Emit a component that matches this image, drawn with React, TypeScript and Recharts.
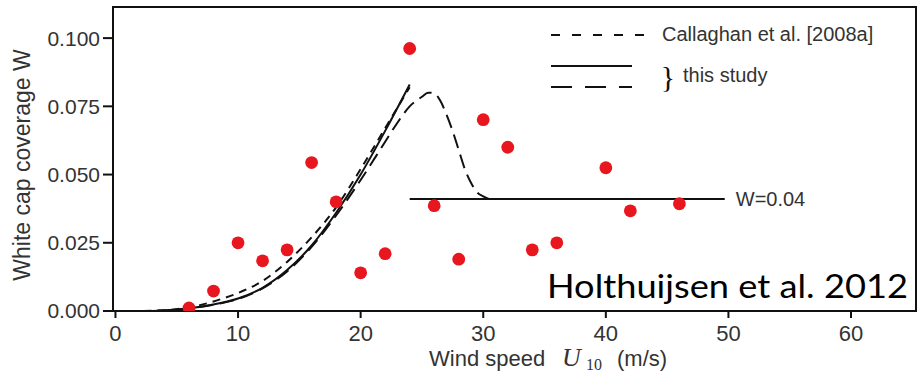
import { ComposedChart, Line, Scatter, XAxis, YAxis, ReferenceArea, ReferenceDot, Legend } from 'recharts'

// observations (red dots)
const windSpeed = [6, 8, 10, 12, 14, 16, 18, 20, 22, 24, 26, 28, 30, 32, 34, 36, 40, 42, 46]
const coverage = [0.0011, 0.0073, 0.025, 0.0184, 0.0224, 0.0544, 0.04, 0.014, 0.021, 0.0962, 0.0386, 0.019, 0.0701, 0.06, 0.0224, 0.025, 0.0525, 0.0367, 0.0393]

// curves
const curveU = [0, 2, 4, 6, 8, 10, 12, 14, 16, 18, 20, 22, 24]
const solidW = [0, 0, 0.0002, 0.001, 0.0024, 0.0046, 0.0085, 0.015, 0.024, 0.036, 0.05, 0.066, 0.083]
const callaghanW = [0, 0, 0.0003, 0.0013, 0.0035, 0.0066, 0.011, 0.018, 0.027, 0.038, 0.052, 0.067, 0.082]
const peakU = [0, 2, 4, 6, 8, 10, 12, 14, 16, 18, 20, 22, 23, 24, 25, 25.5, 26, 26.5, 27, 27.5, 28, 28.5, 29, 29.5, 30, 30.5]
const peakW = [0, 0, 0.0002, 0.001, 0.0023, 0.0044, 0.0083, 0.0145, 0.0235, 0.035, 0.048, 0.062, 0.069, 0.075, 0.0785, 0.08, 0.0798, 0.077, 0.072, 0.066, 0.059, 0.052, 0.047, 0.0435, 0.042, 0.041]
const thresholdU = [24, 49.7]
const thresholdW = [0.041, 0.041]

const xTicks = [0, 10, 20, 30, 40, 50, 60]
const yTicks = [0, 0.025, 0.05, 0.075, 0.1]

const zip = (us: number[], ws: number[]) => us.map((u, i) => ({ u, w: ws[i] }))

const FONT = '"Liberation Sans", Arial, sans-serif'
const SERIF = '"Liberation Serif", serif'
const INK = '#111'
const TEXT = '#333'
const RED = '#e8161e'

function LegendBox() {
  // drawn relative to wrapper at (540, 15)
  return (
    <svg width={370} height={90} style={{ display: 'block' }}>
      <line x1={11} y1={20} x2={105} y2={20} stroke={INK} strokeWidth={2} strokeDasharray="9 12" />
      <text x={122} y={26} fontSize={20} fill={TEXT} fontFamily={FONT}>Callaghan et al. [2008a]</text>
      <line x1={11} y1={51} x2={92} y2={51} stroke={INK} strokeWidth={2} />
      <line x1={11} y1={72} x2={92} y2={72} stroke={INK} strokeWidth={2} strokeDasharray="21 13" />
      <text x={128} y={72} fontSize={30} fill={INK} fontFamily="serif" textAnchor="middle">{'}'}</text>
      <text x={143} y={67} fontSize={20} fill={TEXT} fontFamily={FONT}>this study</text>
    </svg>
  )
}

function XLabel() {
  return (
    <text y={366} fontFamily={FONT} fill={TEXT} fontSize={22}>
      <tspan x={429}>Wind speed</tspan>
      <tspan x={562} fontFamily={SERIF} fontStyle="italic" fontSize={26}>U</tspan>
      <tspan x={586} dy={4} fontFamily={SERIF} fontSize={16}>10</tspan>
      <tspan x={617} dy={-4}>(m/s)</tspan>
    </text>
  )
}

function YLabel() {
  return (
    <text x={22} y={165} transform="rotate(-90 22 165)" textAnchor="middle" dominantBaseline="central" fontFamily={FONT} fill={TEXT} fontSize={23}>
      White cap coverage W
    </text>
  )
}

export default function App() {
  return (
    <div style={{ position: 'absolute', left: 0, top: 0, width: 922, height: 377, background: '#fff' }}>
      <ComposedChart width={922} height={377} margin={{ top: 7, right: 6, bottom: 0, left: 0 }}>
        <XAxis
          dataKey="u"
          type="number"
          domain={[-0.2, 65.3]}
          ticks={xTicks}
          allowDataOverflow
          height={66}
          tickSize={7}
          tickMargin={7}
          axisLine={{ stroke: INK, strokeWidth: 2 }}
          tickLine={{ stroke: INK, strokeWidth: 2 }}
          tick={{ fill: TEXT, fontSize: 22, fontFamily: FONT }}
          label={{ content: () => <XLabel /> }}
        />
        <YAxis
          type="number"
          domain={[0, 0.1114]}
          ticks={yTicks}
          allowDataOverflow
          width={113}
          tickSize={10}
          tickMargin={3}
          tickFormatter={(v: number) => v.toFixed(3)}
          axisLine={{ stroke: INK, strokeWidth: 2 }}
          tickLine={{ stroke: INK, strokeWidth: 2 }}
          tick={{ fill: TEXT, fontSize: 21, fontFamily: FONT }}
          label={{ content: () => <YLabel /> }}
        />
        <ReferenceArea x1={-0.2} x2={65.3} y1={0} y2={0.1114} fill="none" stroke={INK} strokeWidth={2} ifOverflow="visible" />
        <Line data={zip(curveU, callaghanW)} dataKey="w" type="monotone" stroke={INK} strokeWidth={2} strokeDasharray="8 6" dot={false} isAnimationActive={false} />
        <Line data={zip(curveU, solidW)} dataKey="w" type="monotone" stroke={INK} strokeWidth={2} dot={false} isAnimationActive={false} />
        <Line data={zip(peakU, peakW)} dataKey="w" type="monotone" stroke={INK} strokeWidth={2} strokeDasharray="14 7" dot={false} isAnimationActive={false} />
        <Line data={zip(thresholdU, thresholdW)} dataKey="w" type="linear" stroke={INK} strokeWidth={2} dot={false} isAnimationActive={false} />
        <Scatter
          data={zip(windSpeed, coverage)}
          dataKey="w"
          isAnimationActive={false}
          shape={(p: any) => <circle cx={p.cx} cy={p.cy} r={6.4} fill={RED} />}
        />
        <ReferenceDot
          x={49.7}
          y={0.041}
          r={0}
          ifOverflow="visible"
          label={{ value: 'W=0.04', position: 'right', offset: 11, fontSize: 20, fill: TEXT, fontFamily: FONT }}
        />
        <Legend
          layout="horizontal"
          verticalAlign="middle"
          align="center"
          content={() => <LegendBox />}
          wrapperStyle={{ position: 'absolute', left: 540, top: 15, width: 370, height: 90 }}
        />
      </ComposedChart>
      <svg width={922} height={377} style={{ position: 'absolute', left: 0, top: 0, pointerEvents: 'none' }}>
        <text x={547} y={298} fontSize={33} fontFamily="Lato, 'Open Sans', sans-serif" fill="#000" textLength={361} lengthAdjust="spacingAndGlyphs">
          Holthuijsen et al. 2012
        </text>
      </svg>
    </div>
  )
}
